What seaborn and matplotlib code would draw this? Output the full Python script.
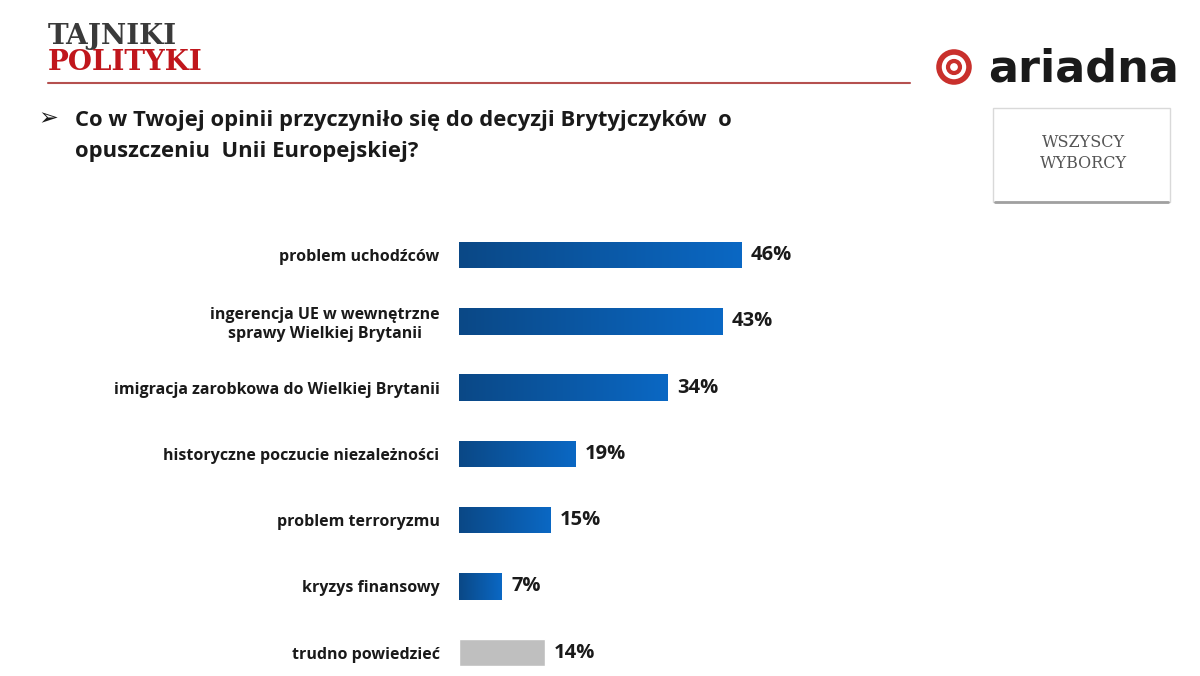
import matplotlib.pyplot as plt
import matplotlib.patches as mpatches
import numpy as np
import pandas as pd
import seaborn as sns

# dane z wykresu
kategorie = [
    "problem uchodźców",
    "ingerencja UE w wewnętrzne\nsprawy Wielkiej Brytanii",
    "imigracja zarobkowa do Wielkiej Brytanii",
    "historyczne poczucie niezależności",
    "problem terroryzmu",
    "kryzys finansowy",
    "trudno powiedzieć",
]
wartosci = [46, 43, 34, 19, 15, 7, 14]
kolory = ["#0a5aa8"] * 6 + ["#bfbfbf"]

df = pd.DataFrame({"kategoria": kategorie, "procent": wartosci})

sns.set_style("white")
plt.rcParams["font.family"] = ["Open Sans", "DejaVu Sans"]

W, H = 1200, 676
fig = plt.figure(figsize=(12, 6.76), dpi=100)
ax = fig.add_axes([459 / W, 1 - 666 / H, 736 / W, 444 / H])

sns.barplot(data=df, x="procent", y="kategoria", hue="kategoria",
            palette=kolory, width=0.4, legend=False, ax=ax, saturation=1)

# gradient na niebieskich slupkach
grad = np.linspace(0, 1, 256).reshape(1, -1)
cmap = sns.blend_palette(["#0b4886", "#0a68c4"], as_cmap=True)
for p in ax.patches[:6]:
    x0, y0 = p.get_x(), p.get_y()
    w, h = p.get_width(), p.get_height()
    im = ax.imshow(grad, cmap=cmap, aspect="auto", extent=[x0, x0 + w, y0 + h, y0],
                   zorder=p.get_zorder() + 0.1)
    im.set_clip_path(p)

for i, v in enumerate(wartosci):
    ax.text(v + 1.5, i, f"{v}%", va="center", ha="left", fontsize=14.5,
            fontweight="bold", color="#1a1a1a")

ax.set_xlim(0, 120)
ax.set_ylim(6.2, -0.5)
ax.set_xlabel("")
ax.set_ylabel("")
ax.set_xticks([])
ax.tick_params(axis="y", length=0, pad=14)
for lab in ax.get_yticklabels():
    lab.set_fontsize(11.5)
    lab.set_fontweight("bold")
    lab.set_color("#1a1a1a")
    lab.set_multialignment("center")
sns.despine(ax=ax, left=True, bottom=True)

# naglowek Tajniki Polityki
fig.text(48 / W, 1 - 36 / H, "TAJNIKI", fontsize=20, color="#3a3a3a",
         family="DejaVu Serif", fontweight="bold", va="center")
fig.text(48 / W, 1 - 62 / H, "POLITYKI", fontsize=20, color="#c0161c",
         family="DejaVu Serif", fontweight="bold", va="center")
fig.add_artist(plt.Line2D([48 / W, 910 / W], [1 - 83 / H] * 2,
                          color="#b5504f", lw=1.5))

# logo ariadna
cx, cy = 954, 67
fig.add_artist(mpatches.Ellipse((cx / W, 1 - cy / H), 30 / W, 30 / H,
                                transform=fig.transFigure, fill=False,
                                ec="#c9302c", lw=4))
fig.add_artist(mpatches.Ellipse((cx / W, 1 - cy / H), 12 / W, 12 / H,
                                transform=fig.transFigure, fill=False,
                                ec="#c9302c", lw=3))
fig.text(988 / W, 1 - 69 / H, "ariadna", fontsize=32, color="#1a1a1a",
         fontweight="bold", va="center", family="DejaVu Sans")

# ramka WSZYSCY WYBORCY
fig.add_artist(mpatches.Rectangle((993 / W, 1 - 202 / H), 177 / W, 94 / H,
                                  transform=fig.transFigure, fc="white",
                                  ec="#d9d9d9", lw=1))
fig.add_artist(plt.Line2D([995 / W, 1168 / W], [1 - 202 / H] * 2,
                          color="#a0a0a0", lw=2))
fig.text(1083 / W, 1 - 153 / H, "WSZYSCY\nWYBORCY", ha="center", va="center",
         fontsize=11.5, color="#555555", family="DejaVu Serif", linespacing=1.3)

# tytul
fig.text(38 / W, 1 - 118 / H, "➢", fontsize=17, fontweight="bold",
         va="center", color="#1a1a1a", family=["DejaVu Sans"])
fig.text(75 / W, 1 - 136 / H,
         "Co w Twojej opinii przyczyniło się do decyzji Brytyjczyków  o\n"
         "opuszczeniu  Unii Europejskiej?",
         fontsize=15.8, fontweight="bold", va="center", color="#1a1a1a",
         linespacing=1.6)

fig.savefig("out.png", dpi=100)
